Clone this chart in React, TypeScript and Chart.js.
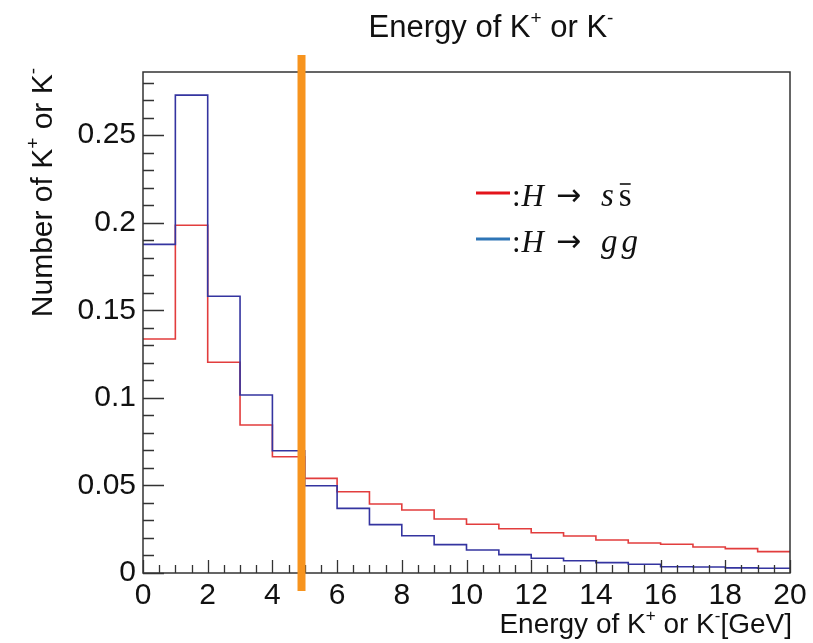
import React, { useEffect, useRef } from 'react';
import { Chart, registerables } from 'chart.js';

Chart.register(...registerables);

// ---- data ----
const binEdges = [0, 1, 2, 3, 4, 5, 6, 7, 8, 9, 10, 11, 12, 13, 14, 15, 16, 17, 18, 19, 20];
const ssbarValues = [0.1336, 0.1985, 0.1203, 0.0845, 0.0664, 0.054, 0.0464, 0.0394, 0.036, 0.0308, 0.0278, 0.0253, 0.023, 0.0211, 0.0188, 0.0171, 0.0164, 0.0148, 0.0139, 0.0122];
const ggValues = [0.1876, 0.2728, 0.158, 0.1016, 0.0698, 0.0498, 0.0369, 0.0276, 0.0213, 0.0162, 0.0131, 0.0105, 0.0084, 0.007, 0.0059, 0.005, 0.0036, 0.0034, 0.0029, 0.0027];
const xTickValues = [0, 2, 4, 6, 8, 10, 12, 14, 16, 18, 20];
const yTickValues = [0, 0.05, 0.1, 0.15, 0.2, 0.25];
const xMin = 0;
const xMax = 20;
const yMin = 0;
const yMax = 0.286;
const cutValue = 4.9;

const SANS = '"Liberation Sans", Arial, Helvetica, sans-serif';
const SERIF = '"Liberation Serif", "DejaVu Serif", serif';

type Seg = { t: string; sup?: boolean };

function richWidth(ctx: CanvasRenderingContext2D, segs: Seg[], size: number) {
  let w = 0;
  for (const s of segs) {
    ctx.font = `${s.sup ? Math.round(size * 0.62) : size}px ${SANS}`;
    w += ctx.measureText(s.t).width;
  }
  return w;
}

function drawRich(ctx: CanvasRenderingContext2D, segs: Seg[], x: number, y: number, size: number) {
  let cx = x;
  ctx.textAlign = 'left';
  ctx.textBaseline = 'alphabetic';
  for (const s of segs) {
    const fs = s.sup ? Math.round(size * 0.62) : size;
    ctx.font = `${fs}px ${SANS}`;
    ctx.fillText(s.t, cx, s.sup ? y - size * 0.42 : y);
    cx += ctx.measureText(s.t).width;
  }
}

const titleSegs: Seg[] = [{ t: 'Energy of K' }, { t: '+', sup: true }, { t: ' or K' }, { t: '-', sup: true }];
const xLabelSegs: Seg[] = [{ t: 'Energy of K' }, { t: '+', sup: true }, { t: ' or K' }, { t: '-', sup: true }, { t: '[GeV]' }];
const yLabelSegs: Seg[] = [{ t: 'Number of K' }, { t: '+', sup: true }, { t: ' or K' }, { t: '-', sup: true }];

const decorPlugin = {
  id: 'decor',
  afterDatasetsDraw(chart: any) {
    const ctx: CanvasRenderingContext2D = chart.ctx;
    const area = chart.chartArea;
    const xs = chart.scales.x;
    const ys = chart.scales.y;
    ctx.save();

    // frame
    ctx.strokeStyle = '#333';
    ctx.lineWidth = 1.5;
    ctx.strokeRect(area.left, area.top, area.right - area.left, area.bottom - area.top);

    // y ticks (inward)
    ctx.lineWidth = 1.3;
    ctx.beginPath();
    for (let i = 0; i <= 28; i++) {
      const v = i / 100;
      if (v > yMax) break;
      const py = Math.round(ys.getPixelForValue(v)) + 0.5;
      const len = i % 5 === 0 ? 21 : 11;
      ctx.moveTo(area.left, py);
      ctx.lineTo(area.left + len, py);
    }
    // x ticks (inward)
    for (let i = 0; i <= 40; i++) {
      const v = i / 2;
      const px = Math.round(xs.getPixelForValue(v)) + 0.5;
      const len = i % 4 === 0 ? 13 : 8;
      ctx.moveTo(px, area.bottom);
      ctx.lineTo(px, area.bottom - len);
    }
    ctx.stroke();

    // orange cut line
    const cx = xs.getPixelForValue(cutValue);
    ctx.strokeStyle = '#f7941e';
    ctx.lineWidth = 8;
    ctx.beginPath();
    ctx.moveTo(cx, area.top - 17);
    ctx.lineTo(cx, area.bottom + 18);
    ctx.stroke();

    // title
    ctx.fillStyle = '#111';
    const tSize = 31;
    const tw = richWidth(ctx, titleSegs, tSize);
    drawRich(ctx, titleSegs, 491 - tw / 2, 37, tSize);

    // x axis title (right aligned)
    const xSize = 28;
    const xw = richWidth(ctx, xLabelSegs, xSize);
    drawRich(ctx, xLabelSegs, 792 - xw, 633, xSize);

    // y axis title (rotated, right aligned to top)
    const ySize = 30;
    const yw = richWidth(ctx, yLabelSegs, ySize);
    ctx.save();
    ctx.translate(52, 68);
    ctx.rotate(-Math.PI / 2);
    drawRich(ctx, yLabelSegs, -yw, 0, ySize);
    ctx.restore();

    // legend
    const legendItems = [
      { color: '#e3141b', base: 206, parts: ['s', 's'], bar: true },
      { color: '#2e75b6', base: 252, parts: ['g', 'g'], bar: false },
    ];
    const lSize = 31;
    for (const it of legendItems) {
      ctx.strokeStyle = it.color;
      ctx.lineWidth = 3;
      ctx.beginPath();
      ctx.moveTo(476, it.base - 13);
      ctx.lineTo(510, it.base - 13);
      ctx.stroke();
      ctx.fillStyle = '#111';
      ctx.textAlign = 'left';
      ctx.textBaseline = 'alphabetic';
      ctx.font = `${lSize}px ${SERIF}`;
      ctx.fillText(':', 512, it.base);
      const colW = ctx.measureText(':').width;
      ctx.font = `italic ${lSize}px ${SERIF}`;
      ctx.fillText('H', 512 + colW + 1, it.base);
      ctx.font = `30px "DejaVu Sans", sans-serif`;
      ctx.fillText('\u2192', 556, it.base - 1);
      ctx.font = `italic ${lSize + 2}px ${SERIF}`;
      ctx.fillText(it.parts[0], 601, it.base);
      const w1 = ctx.measureText(it.parts[0]).width;
      if (it.bar) {
        ctx.font = `${lSize + 2}px ${SERIF}`;
        const x2 = 601 + w1 + 5;
        ctx.fillText(it.parts[1], x2, it.base);
        const w2 = ctx.measureText(it.parts[1]).width;
        ctx.strokeStyle = '#111';
        ctx.lineWidth = 1.6;
        ctx.beginPath();
        ctx.moveTo(x2 + 1, it.base - 22);
        ctx.lineTo(x2 + w2 - 1, it.base - 22);
        ctx.stroke();
      } else {
        ctx.fillText(it.parts[1], 601 + w1 + 4, it.base);
      }
    }

    ctx.restore();
  },
};

function toSteps(values: number[]) {
  return binEdges.map((e, i) => ({ x: e, y: values[Math.min(i, values.length - 1)] }));
}

export default function App() {
  const ref = useRef<HTMLCanvasElement | null>(null);
  useEffect(() => {
    if (!ref.current) return;
    const tickFont = { family: SANS, size: 30 };
    const chart = new Chart(ref.current, {
      type: 'line',
      data: {
        datasets: [
          {
            label: 'H -> gg',
            data: toSteps(ggValues),
            borderColor: '#3434a0',
            borderWidth: 1.6,
            stepped: true,
            pointRadius: 0,
            fill: false,
          },
          {
            label: 'H -> ssbar',
            data: toSteps(ssbarValues),
            borderColor: '#e23d3d',
            borderWidth: 1.6,
            stepped: true,
            pointRadius: 0,
            fill: false,
          },
        ],
      },
      options: {
        responsive: false,
        animation: false,
        devicePixelRatio: 1,
        layout: { padding: { top: 72, right: 23, left: 0, bottom: 0 } },
        plugins: { legend: { display: false }, tooltip: { enabled: false }, title: { display: false } },
        scales: {
          x: {
            type: 'linear',
            min: xMin,
            max: xMax,
            afterBuildTicks: (s: any) => { s.ticks = xTickValues.map((v) => ({ value: v })); },
            afterFit: (s: any) => { s.height = 70; },
            grid: { display: false, drawTicks: false },
            border: { display: false },
            ticks: { font: tickFont, color: '#111', padding: 5, maxRotation: 0, autoSkip: false },
          },
          y: {
            type: 'linear',
            min: yMin,
            max: yMax,
            afterBuildTicks: (s: any) => { s.ticks = yTickValues.map((v) => ({ value: v })); },
            afterFit: (s: any) => { s.width = 143; },
            grid: { display: false, drawTicks: false },
            border: { display: false },
            ticks: { font: tickFont, color: '#111', padding: 7, autoSkip: false, callback: (v: any) => String(+Number(v).toFixed(3)) },
          },
        },
      },
      plugins: [decorPlugin],
    } as any);
    return () => chart.destroy();
  }, []);
  return (
    <div style={{ position: 'absolute', left: 0, top: 0, width: 813, height: 643, background: '#fff' }}>
      <canvas ref={ref} width={813} height={643} style={{ display: 'block' }} />
    </div>
  );
}
